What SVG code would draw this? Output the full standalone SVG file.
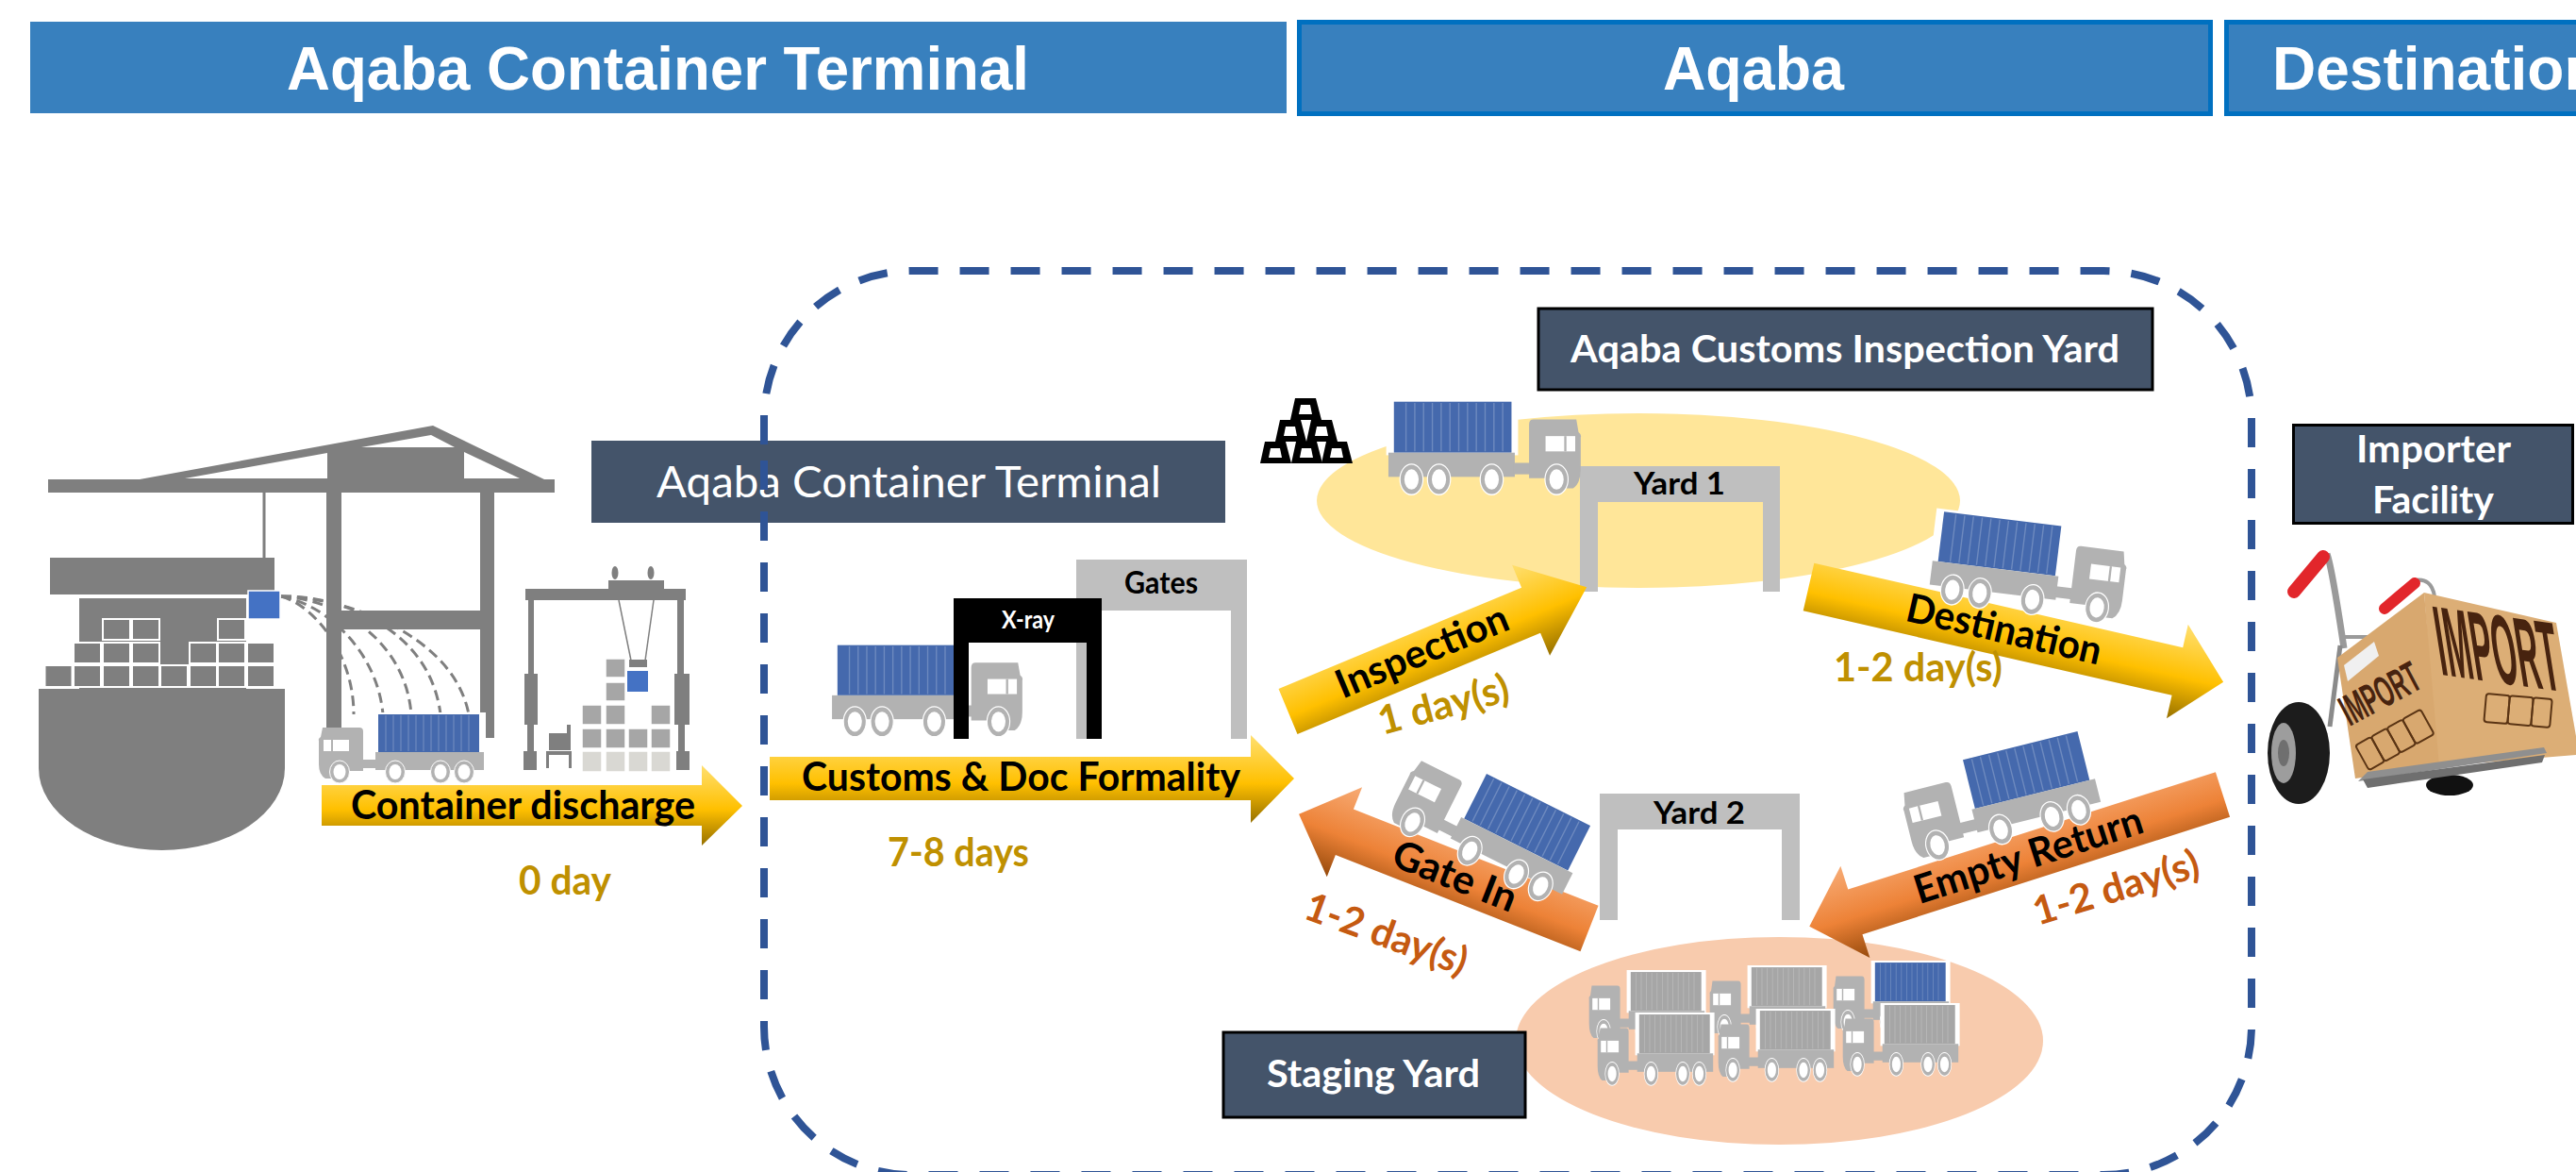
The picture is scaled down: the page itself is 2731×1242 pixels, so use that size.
<svg xmlns="http://www.w3.org/2000/svg" xmlns:xlink="http://www.w3.org/1999/xlink" width="2731" height="1242" viewBox="0 0 2731 1242">
<style>
text{font-family:Lato,"Noto Sans",sans-serif}
.hd{font-family:"Liberation Sans",Arial,sans-serif;font-weight:700;font-size:64px;fill:#fff}
.lbl{font-weight:700;font-size:40px;fill:#fff}
.ar{font-weight:700;font-size:42px;fill:#000}
.dg{font-weight:700;font-size:42px;fill:#bf9000}
.do{font-weight:700;font-size:42px;fill:#c55a11}
.gt{font-weight:700;font-size:33px;fill:#000}
.g7{fill:#7f7f7f}
.cell{fill:#7f7f7f;stroke:#fff;stroke-width:2}
.cg{fill:#a6a6a6;stroke:#fff;stroke-width:1.5}
.cl{fill:#d9d8d3;stroke:#fff;stroke-width:1.5}
.arc{fill:none;stroke:#7f7f7f;stroke-width:3;stroke-dasharray:11 6}
.dark{fill:#44546a;stroke:#000;stroke-width:3}
.gate{fill:#bfbfbf}
.ay{fill:url(#gy)}
.ao{fill:url(#go)}
.wo{fill:#b2b2b2;stroke:#fff;stroke-width:1}
.wi{fill:#fff}
.tb{fill:#b2b2b2}
.imp{font-family:"Liberation Sans",Arial,sans-serif;font-weight:700;fill:#47230f}
.sym{fill:none;stroke:#5a3414;stroke-width:2}
</style>
<defs>
<linearGradient id="gy" x1="0" y1="0" x2="0" y2="1"><stop offset="0" stop-color="#ffdf70"/><stop offset=".55" stop-color="#ffc000"/><stop offset="1" stop-color="#967000"/></linearGradient>
<linearGradient id="go" x1="0" y1="0" x2="0" y2="1"><stop offset="0" stop-color="#f7ab75"/><stop offset=".55" stop-color="#ed8237"/><stop offset="1" stop-color="#964a0c"/></linearGradient>
<g id="truck">
<rect x="58" y="0" width="120" height="44" fill="#fff"/>
<rect x="64" y="2" width="107" height="40" fill="currentColor"/>
<path d="M72 3V41M80 3V41M88 3V41M96 3V41M104 3V41M112 3V41M120 3V41M128 3V41M136 3V41M144 3V41M152 3V41M160 3V41" stroke="#fff" stroke-opacity=".22" stroke-width="1.2" fill="none"/>
<rect class="tb" x="61" y="42" width="115" height="19"/>
<rect class="tb" x="46" y="50" width="16" height="9"/>
<path class="tb" d="M5 16H44Q48 16 48 20V62H30V70H8Q1 66 1 55V30Q0 28 3 26Z"/>
<rect x="6" y="29" width="27" height="12" fill="#fff"/>
<rect class="tb" x="14" y="29" width="2" height="12"/>
<ellipse class="wo" cx="23" cy="63" rx="10.500" ry="12"/><ellipse class="wi" cx="23" cy="63" rx="6.500" ry="8"/>
<ellipse class="wo" cx="82" cy="63" rx="10.500" ry="12"/><ellipse class="wi" cx="82" cy="63" rx="6.500" ry="8"/>
<ellipse class="wo" cx="130" cy="63" rx="10.500" ry="12"/><ellipse class="wi" cx="130" cy="63" rx="6.500" ry="8"/>
<ellipse class="wo" cx="155" cy="63" rx="10.500" ry="12"/><ellipse class="wi" cx="155" cy="63" rx="6.500" ry="8"/>
</g>
<g id="bar"><polygon points="5,0 27,0 33,23 0,23" fill="#000"/><polygon points="11,7 21,7 23,17 9,17" fill="#fff"/></g>
</defs>
<rect width="2731" height="1242" fill="#fff"/>

<g id="header-terminal"><rect x="32" y="23" width="1332" height="97" fill="#3880be"/><text class="hd" x="304" y="95" textLength="787" lengthAdjust="spacingAndGlyphs">Aqaba Container Terminal</text></g>
<g id="header-aqaba"><rect x="1377.5" y="23.5" width="966" height="97" fill="#3880be" stroke="#0070c0" stroke-width="5"/><text class="hd" x="1763" y="95" textLength="192" lengthAdjust="spacingAndGlyphs">Aqaba</text></g>
<g id="header-destination"><rect x="2360.5" y="23.5" width="380" height="97" fill="#3880be" stroke="#0070c0" stroke-width="5"/><text class="hd" x="2409" y="95">Destination</text></g>

<g id="quay-crane">
<g><path class="arc" d="M298 632C330 640 375 690 375 757"/><path class="arc" d="M298 632C345 640 400 690 406 757"/><path class="arc" d="M298 632C360 635 430 680 436 757"/><path class="arc" d="M298 632C350 630 455 660 467 757"/><path class="arc" d="M298 632C360 632 480 670 497 757"/></g>
<rect class="g7" x="346" y="522" width="16" height="249"/>
<rect class="g7" x="509" y="522" width="15" height="260"/>
<rect class="g7" x="362" y="647" width="147" height="20"/>
<rect class="g7" x="51" y="508" width="537" height="14"/>
<polygon class="g7" points="148,508 459,451 577,508"/>
<polygon fill="#fff" points="196,507 347,480 347,507"/>
<polygon fill="#fff" points="383,474 457,461 482,474"/>
<polygon fill="#fff" points="492,479 492,507 551,507"/>
<line x1="280" y1="522" x2="280" y2="591" stroke="#7f7f7f" stroke-width="3"/>
</g>

<g id="ship">
<path class="g7" d="M41 730H302V814A130.500 87 0 0 1 41 814Z"/>
<rect class="g7" x="53" y="591" width="238" height="39"/>
<rect class="g7" x="84" y="634" width="177" height="96"/>
<rect class="cell" x="47.500" y="705" width="29" height="23"/><rect class="cell" x="78" y="705" width="29" height="23"/><rect class="cell" x="109" y="705" width="29" height="23"/><rect class="cell" x="140" y="705" width="29" height="23"/><rect class="cell" x="170" y="705" width="29" height="23"/><rect class="cell" x="201" y="705" width="29" height="23"/><rect class="cell" x="231" y="705" width="29" height="23"/><rect class="cell" x="262" y="705" width="29" height="23"/>
<rect class="cell" x="78" y="681" width="29" height="22"/><rect class="cell" x="109" y="681" width="29" height="22"/><rect class="cell" x="140" y="681" width="29" height="22"/><rect class="cell" x="201" y="681" width="29" height="22"/><rect class="cell" x="231" y="681" width="29" height="22"/><rect class="cell" x="262" y="681" width="29" height="22"/>
<rect class="cell" x="109" y="656" width="29" height="22"/><rect class="cell" x="140" y="656" width="29" height="22"/><rect class="cell" x="231" y="656" width="29" height="22"/>
<rect x="263" y="626" width="34" height="30" fill="#4472c4" stroke="#fff" stroke-width="1.500"/>
</g>

<g id="truck-discharge"><use href="#truck" transform="translate(337,755)" style="color:#4569ad"/></g>

<g id="rtg-crane">
<rect class="g7" x="557" y="624" width="170" height="12"/>
<rect class="g7" x="645" y="615" width="59" height="10"/>
<ellipse class="g7" cx="652" cy="607" rx="3.500" ry="7"/><ellipse class="g7" cx="690" cy="607" rx="3.500" ry="7"/>
<rect class="g7" x="560" y="636" width="6" height="78"/><rect class="g7" x="556" y="714" width="14" height="54"/><rect class="g7" x="559" y="768" width="7" height="28"/><rect class="g7" x="555" y="796" width="14" height="20"/>
<rect class="g7" x="718" y="636" width="7" height="78"/><rect class="g7" x="715" y="714" width="16" height="54"/><rect class="g7" x="719" y="768" width="7" height="28"/><rect class="g7" x="717" y="796" width="14" height="20"/>
<line x1="656" y1="636" x2="669" y2="700" stroke="#7f7f7f" stroke-width="1.500"/><line x1="693" y1="636" x2="684" y2="700" stroke="#7f7f7f" stroke-width="1.500"/>
<rect class="g7" x="667" y="699" width="19" height="8"/>
<rect x="665" y="711" width="22" height="22" fill="#4472c4"/>
<rect class="cg" x="642" y="698" width="21" height="20"/><rect class="cg" x="642" y="723" width="21" height="20"/>
<rect class="cg" x="617" y="747" width="21" height="21"/><rect class="cg" x="642" y="747" width="21" height="21"/><rect class="cg" x="690" y="747" width="21" height="21"/>
<rect class="cg" x="617" y="772" width="21" height="21"/><rect class="cg" x="642" y="772" width="21" height="21"/><rect class="cg" x="666" y="772" width="21" height="21"/><rect class="cg" x="690" y="772" width="21" height="21"/>
<rect class="cl" x="617" y="796" width="21" height="22"/><rect class="cl" x="642" y="796" width="21" height="22"/><rect class="cl" x="666" y="796" width="21" height="22"/><rect class="cl" x="690" y="796" width="21" height="22"/>
<path class="g7" d="M601 768H605V795H582V777H601Z"/><path class="g7" d="M579 796H606V814H603V800H582V814H579Z"/>
</g>

<g id="truck-xray"><use href="#truck" transform="translate(1085,681) scale(-1.153,1.33)" style="color:#4569ad"/></g>
<g id="gates"><path class="gate" d="M1141 593H1322V783H1305V647H1152V783H1141Z"/><text class="gt" x="1192" y="629" textLength="78" lengthAdjust="spacingAndGlyphs">Gates</text></g>
<g id="xray"><path fill="#000" d="M1011 634H1168V783H1152V681H1027V783H1011Z"/><text x="1062" y="666" font-size="26" font-weight="700" fill="#fff" textLength="56" lengthAdjust="spacingAndGlyphs">X-ray</text></g>

<g id="yard-1-area">
<ellipse cx="1737" cy="530.500" rx="341" ry="92.500" fill="#ffe699"/>
<g id="yard-1"><path class="gate" d="M1675 494H1887V627H1869V532H1694V627H1675Z"/><text class="gt" x="1732" y="524" textLength="97" lengthAdjust="spacingAndGlyphs">Yard 1</text></g>
</g>
<g id="yard-2"><path class="gate" d="M1696 841H1908V975H1889V879H1715V975H1696Z"/><text class="gt" x="1753" y="873" textLength="97" lengthAdjust="spacingAndGlyphs">Yard 2</text></g>
<ellipse id="staging-area" cx="1886.500" cy="1103" rx="279.500" ry="110" fill="#f8cbad"/>

<g id="gold-bars"><use href="#bar" x="1368" y="422"/><use href="#bar" x="1352" y="445"/><use href="#bar" x="1385" y="445"/><use href="#bar" x="1336" y="468"/><use href="#bar" x="1369" y="468"/><use href="#bar" x="1401" y="468"/></g>

<g id="connectors">
<g><polygon class="ay" points="341,832 744,832 744,811 787,854 744,896 744,875 341,875"/><text class="ar" x="372" y="868" textLength="365" lengthAdjust="spacingAndGlyphs">Container discharge</text></g>
<g><polygon class="ay" points="816,802 1326,802 1326,779 1372,825 1326,872 1326,848 816,848"/><text class="ar" x="850" y="838" textLength="465" lengthAdjust="spacingAndGlyphs">Customs &amp; Doc Formality</text></g>
<g transform="translate(1365.500,754) rotate(-22.6)"><polygon class="ay" points="0,-26 279,-26 279,-52 343,0 279,52 279,26 0,26"/><text class="ar" x="155.700" y="10" text-anchor="middle" textLength="194" lengthAdjust="spacingAndGlyphs">Inspection</text></g>
<g transform="translate(1917.500,622) rotate(12.9)"><polygon class="ay" points="0,-26 401,-26 401,-51 451,0 401,51 401,26 0,26"/><text class="ar" x="212" y="12" text-anchor="middle" textLength="211" lengthAdjust="spacingAndGlyphs">Destination</text></g>
<g transform="translate(1685,984) rotate(21.5)"><polygon class="ao" points="0,-26 -279,-26 -279,-51 -331,0 -279,51 -279,26 0,26"/><text class="ar" x="-153" y="15" text-anchor="middle" textLength="138" lengthAdjust="spacingAndGlyphs">Gate In</text></g>
<g transform="translate(2356.500,842) rotate(-17.7)"><polygon class="ao" points="0,-25 -409,-25 -409,-51 -460,0 -409,51 -409,25 0,25"/><text class="ar" x="-216" y="13" text-anchor="middle" textLength="252" lengthAdjust="spacingAndGlyphs">Empty Return</text></g>
</g>

<g id="duration-labels">
<text class="dg" x="550" y="948" textLength="98" lengthAdjust="spacingAndGlyphs">0 day</text>
<text class="dg" x="941" y="918" textLength="150" lengthAdjust="spacingAndGlyphs">7-8 days</text>
<text class="dg" transform="translate(1531,749) rotate(-15)" y="12" text-anchor="middle" textLength="142" lengthAdjust="spacingAndGlyphs">1 day(s)</text>
<text class="dg" x="1944" y="722" textLength="179" lengthAdjust="spacingAndGlyphs">1-2 day(s)</text>
<text class="do" transform="translate(1469,992) rotate(20)" y="12" text-anchor="middle" textLength="180" lengthAdjust="spacingAndGlyphs">1-2 day(s)</text>
<text class="do" transform="translate(2244,943) rotate(-17)" y="12" text-anchor="middle" textLength="182" lengthAdjust="spacingAndGlyphs">1-2 day(s)</text>
</g>

<g id="truck-yard-1"><use href="#truck" transform="translate(1677,423) scale(-1.165,1.35)" style="color:#4569ad"/></g>
<g id="truck-destination"><use href="#truck" transform="translate(2260,564) rotate(7) scale(-1.17,1.33)" style="color:#4569ad"/></g>
<g id="truck-gate-in"><use href="#truck" transform="translate(1511.400,784.600) rotate(26.6) scale(1.15,1.33)" style="color:#4569ad"/></g>
<g id="truck-empty-return"><use href="#truck" transform="translate(2007.700,820.900) rotate(-14) scale(1.17,1.33)" style="color:#4569ad"/></g>

<g id="staging-trucks">
<use href="#truck" transform="translate(1684,1028) scale(.7,1.03)" style="color:#a6a6a6"/>
<use href="#truck" transform="translate(1812,1023) scale(.7,1.03)" style="color:#a6a6a6"/>
<use href="#truck" transform="translate(1943,1018) scale(.7,1.03)" style="color:#4569ad"/>
<use href="#truck" transform="translate(1693,1073) scale(.7,1.03)" style="color:#a6a6a6"/>
<use href="#truck" transform="translate(1821,1069) scale(.7,1.03)" style="color:#a6a6a6"/>
<use href="#truck" transform="translate(1953,1063) scale(.7,1.03)" style="color:#a6a6a6"/>
</g>

<g id="label-customs-yard"><rect class="dark" x="1631" y="327" width="651" height="86"/><text class="lbl" x="1665" y="384" textLength="582" lengthAdjust="spacingAndGlyphs">Aqaba Customs Inspection Yard</text></g>
<g id="label-staging"><rect class="dark" x="1297" y="1094" width="320" height="90"/><text class="lbl" x="1343" y="1152" textLength="226" lengthAdjust="spacingAndGlyphs">Staging Yard</text></g>
<g id="label-importer"><rect class="dark" x="2431.500" y="450.500" width="296" height="104"/><text class="lbl" x="2498" y="490" textLength="164" lengthAdjust="spacingAndGlyphs">Importer</text><text class="lbl" x="2515" y="544" textLength="129" lengthAdjust="spacingAndGlyphs">Facility</text></g>

<g id="import-cart">
<ellipse cx="2597" cy="832" rx="25" ry="11" fill="#111"/>
<path d="M2467 587Q2472 600 2485 687" fill="none" stroke="#9a9a9a" stroke-width="7"/>
<path d="M2481 684L2470 770" fill="none" stroke="#8a8a8a" stroke-width="5"/>
<path d="M2485 675L2510 675" fill="none" stroke="#9a9a9a" stroke-width="4"/>
<path d="M2560 615Q2578 612 2581 632" fill="none" stroke="#9a9a9a" stroke-width="4"/>
<path d="M2432 627L2463 590" stroke="#e2262b" stroke-width="14" stroke-linecap="round" fill="none"/>
<path d="M2528 645L2560 618" stroke="#e2262b" stroke-width="12" stroke-linecap="round" fill="none"/>
<polygon points="2570,628 2710,660 2731,780 2731,800 2583,812" fill="#dcae76"/>
<polygon points="2478,697 2570,628 2586,812 2497,825" fill="#d8a86f"/>
<polygon points="2485,705 2517,680 2522,695 2489,722" fill="#f0f0f0"/>
<polygon points="2500,828 2700,798 2697,792 2510,818" fill="#8f8f8f"/>
<polygon points="2510,835 2695,808 2698,800 2505,826" fill="#6f6f6f"/>
<text class="imp" transform="translate(2588,715) rotate(8) skewX(17) scale(.33,1)" font-size="102">IMPORT</text>
<text class="imp" transform="translate(2491,770) rotate(-28) scale(.5,1)" font-size="46">IMPORT</text>
<g transform="translate(2636,735) rotate(5)"><rect class="sym" width="25" height="30" rx="3"/><rect class="sym" x="25" width="25" height="30" rx="3"/><rect class="sym" x="50" width="20" height="30" rx="3"/></g>
<g transform="translate(2497,790) rotate(-29)"><rect class="sym" width="19" height="30" rx="3"/><rect class="sym" x="19" width="19" height="30" rx="3"/><rect class="sym" x="38" width="19" height="30" rx="3"/><rect class="sym" x="57" width="22" height="30" rx="3"/></g>
<ellipse cx="2437" cy="798" rx="33" ry="54" fill="#1c1c1c"/>
<ellipse cx="2421" cy="798" rx="13" ry="32" fill="#9d9d9d"/>
<ellipse cx="2421" cy="798" rx="6" ry="14" fill="#6f6f6f"/>
</g>

<g id="label-terminal"><rect x="627" y="467" width="672" height="87" fill="#44546a"/><text x="696" y="527" font-size="46" fill="#fff" textLength="535" lengthAdjust="spacingAndGlyphs">Aqaba Container Terminal</text></g>

<path id="boundary" d="M810 488V1088A157 157 0 0 0 967 1245H2230A157 157 0 0 0 2387 1088V444A157 157 0 0 0 2230 287H967A157 157 0 0 0 810 444V488" fill="none" stroke="#2f5496" stroke-width="8" stroke-dasharray="31 23"/>
</svg>
